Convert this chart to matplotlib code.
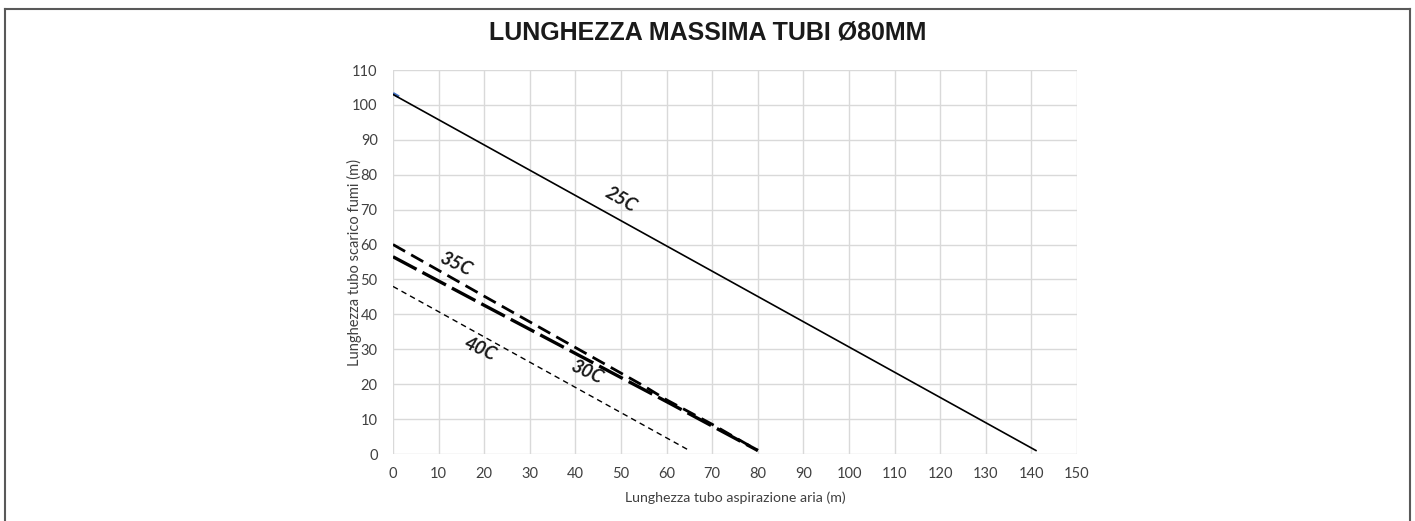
import matplotlib
matplotlib.use("Agg")
import matplotlib.pyplot as plt
from matplotlib.lines import Line2D

# series data (aspirazione, scarico) in metres
x_25 = [0, 141]
y_25 = [103, 1]
x_35 = [0, 20, 40, 55, 60, 65, 70, 80]
y_35 = [60, 45.2, 30.5, 19.5, 15.5, 12, 8.5, 1]
x_30 = [0, 20, 40, 60, 70, 80]
y_30 = [56.5, 42.6, 28.8, 15, 8, 1]
x_40 = [0, 65]
y_40 = [48, 1]
x_blue = [0, 1.3]
y_blue = [103.3, 102.3]

# label positions
labels = ["25C", "35C", "40C", "30C"]
label_x = [50, 13.8, 19, 42.5]
label_y = [73, 54.5, 30, 23.5]
label_rot = [-30, -25, -25, -25]

x_ticks = list(range(0, 151, 10))
y_ticks = list(range(0, 111, 10))

plt.rcParams['font.family'] = ['Lato', 'DejaVu Sans']

fig = plt.figure(figsize=(14.15, 5.21), dpi=100)
ax = fig.add_axes([393 / 1415, 67 / 521, 684 / 1415, 384 / 521])

ax.plot(x_blue, y_blue, color="#4472c4", lw=2.2, solid_capstyle="butt")
ax.plot(x_25, y_25, color="black", lw=1.2)
ax.plot(x_35, y_35, color="black", lw=2.0, dashes=(5, 2.5))
ax.plot(x_30, y_30, color="black", lw=2.4, dashes=(8, 2))
ax.plot(x_40, y_40, color="black", lw=1.0, dashes=(4, 3))

for t, lx, ly, r in zip(labels, label_x, label_y, label_rot):
    ax.text(lx, ly, t, rotation=r, ha="center", va="center",
            fontsize=13.5, fontweight="bold", fontstyle="italic", color="#1a1a1a")

ax.set_xlim(0, 150)
ax.set_ylim(0, 110)
ax.set_xticks(x_ticks)
ax.set_yticks(y_ticks)
ax.grid(True, color="#d9d9d9", lw=1.0)
ax.set_axisbelow(True)
for s in ax.spines.values():
    s.set_visible(False)
ax.tick_params(length=0, labelsize=10.5, colors="#404040", pad=9)
ax.tick_params(axis="y", pad=11)

ax.set_xlabel("Lunghezza tubo aspirazione aria (m)", fontsize=10.2, color="#404040", labelpad=8)
ax.set_ylabel("Lunghezza tubo scarico fumi (m)", fontsize=10.5, color="#404040", labelpad=-7)

fig.text(0.5, 1 - 33 / 521, "LUNGHEZZA MASSIMA TUBI Ø80MM", ha="center", va="center",
         fontsize=18, fontweight="bold", color="#1a1a1a", family="Liberation Sans")

# outer frame (open at bottom)
fx0, fx1, fy1 = 5 / 1415, 1410 / 1415, 1 - 9 / 521
for xs, ys in [([fx0, fx0], [0, fy1]), ([fx1, fx1], [0, fy1]), ([fx0, fx1], [fy1, fy1])]:
    fig.add_artist(Line2D(xs, ys, color="#595959", lw=1.5, transform=fig.transFigure))

fig.savefig("out.png", dpi=100)
